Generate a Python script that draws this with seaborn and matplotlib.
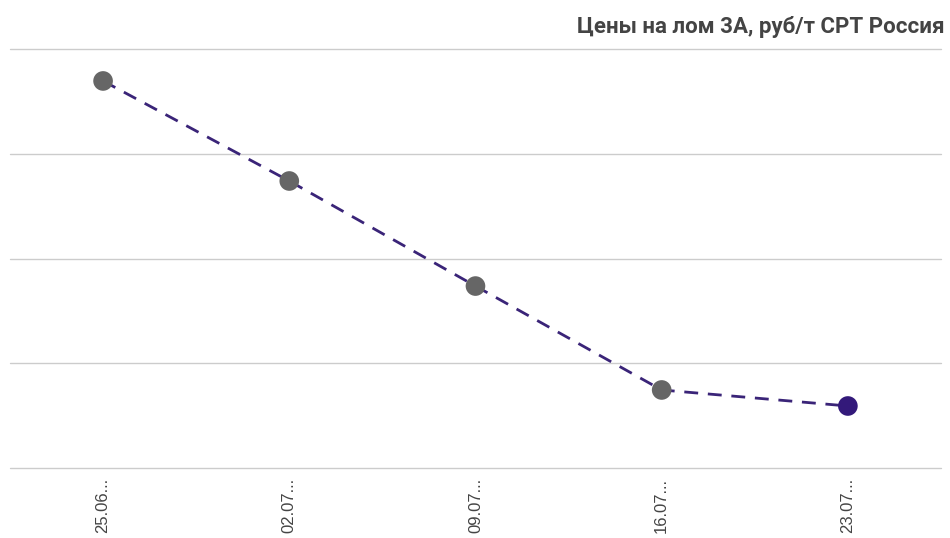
import pandas as pd
import numpy as np
import matplotlib
matplotlib.use('Agg')
import matplotlib.pyplot as plt
import seaborn as sns

# data (no y labels shown, scale estimated)
dates = ['25.06.2021', '02.07.2021', '09.07.2021', '16.07.2021', '23.07.2021']
tick_labels = ['25.06...', '02.07...', '09.07...', '16.07...', '23.07...']
prices = [24695, 23740, 22737, 21745, 21592]
point_colors = ['#666666', '#666666', '#666666', '#666666', '#33197a']

title = 'Цены на лом 3А, руб/т CPT Россия'

df = pd.DataFrame({'x': np.arange(len(dates)), 'date': dates, 'price': prices})

sns.set_style('white')
plt.rcParams['font.family'] = ['Roboto', 'DejaVu Sans']

fig = plt.figure(figsize=(9.5, 5.38), dpi=100)
ax = fig.add_axes([0.0105, 0.1301, 0.98, 0.7788])

sns.lineplot(data=df, x='x', y='price', ax=ax, color='#3a2478',
             linewidth=2, linestyle=(0, (5, 3.5)), zorder=2)
sns.scatterplot(data=df, x='x', y='price', hue='date', palette=point_colors,
                s=200, edgecolor='none', legend=False, ax=ax, zorder=3)

ax.set_xlim(-0.5, len(dates) - 0.5)
ax.set_ylim(21000, 25000)
ax.set_yticks([21000, 22000, 23000, 24000, 25000])
ax.set_yticklabels([])
ax.yaxis.grid(True, color='#cccccc', linewidth=1)
for gl in ax.get_ygridlines():
    gl.set_clip_on(False)
ax.tick_params(axis='y', length=0)
ax.set_xticks(df['x'])
ax.set_xticklabels(tick_labels, rotation=90, fontsize=12, color='#444444',
                   family=['Liberation Sans', 'DejaVu Sans'], va='top')
ax.tick_params(axis='x', length=0, pad=7)
ax.set_xlabel('')
ax.set_ylabel('')
for s in ax.spines.values():
    s.set_visible(False)

fig.text(0.9947, 0.949, title, ha='right', va='center', fontsize=16,
         fontweight='bold', color='#444444')

fig.savefig('out.png', dpi=100)
